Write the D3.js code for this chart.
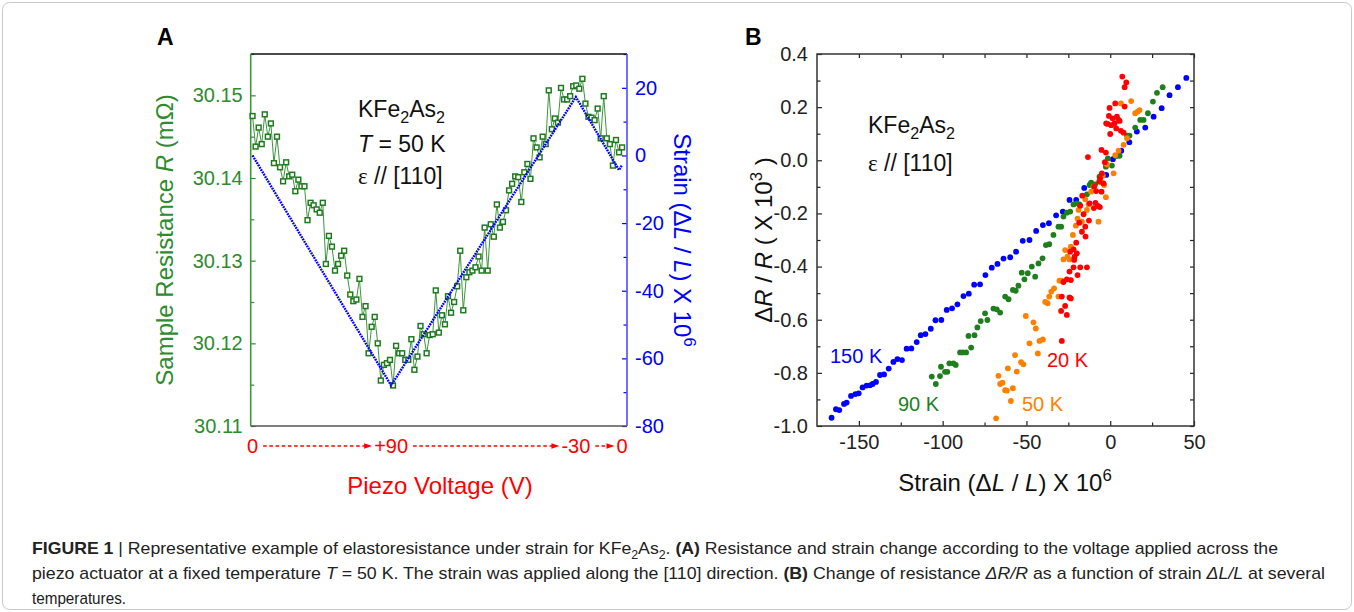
<!DOCTYPE html>
<html>
<head>
<meta charset="utf-8">
<script src="https://cdn.jsdelivr.net/npm/d3@7"></script>
<style>
  body { margin: 0; background: #fff; }
  svg text { font-family: "Liberation Sans", Arial, sans-serif; }
</style>
</head>
<body>
<svg id="fig" width="1354" height="612"></svg>
<script>
// ---------- data, panel A ----------
// sample resistance (mOhm) at each voltage step, read along the sweep 0 -> +90 -> -30 -> 0 V
var resistanceA = [
  30.1475, 30.1438, 30.1461, 30.1441, 30.1477, 30.1450, 30.1466, 30.1418, 30.1450, 30.1413,
  30.1396, 30.1419, 30.1402, 30.1404, 30.1384, 30.1398, 30.1390, 30.1390, 30.1349, 30.1370,
  30.1367, 30.1362, 30.1358, 30.1370, 30.1296, 30.1330, 30.1317, 30.1288, 30.1296, 30.1306,
  30.1312, 30.1282, 30.1259, 30.1251, 30.1253, 30.1278, 30.1232, 30.1245, 30.1188, 30.1220,
  30.1232, 30.1200, 30.1155, 30.1174, 30.1176, 30.1180, 30.1149, 30.1197, 30.1188, 30.1188,
  30.1180, 30.1180, 30.1205, 30.1168, 30.1184, 30.1221, 30.1211, 30.1188, 30.1210, 30.1211,
  30.1264, 30.1213, 30.1234, 30.1223, 30.1257, 30.1237, 30.1250, 30.1269, 30.1312, 30.1240,
  30.1280, 30.1286, 30.1288, 30.1292, 30.1305, 30.1288, 30.1340, 30.1288, 30.1344, 30.1329,
  30.1368, 30.1340, 30.1347, 30.1361, 30.1385, 30.1393, 30.1402, 30.1401, 30.1371, 30.1407,
  30.1417, 30.1399, 30.1448, 30.1437, 30.1425, 30.1450, 30.1441, 30.1506, 30.1459, 30.1472,
  30.1467, 30.1509, 30.1495, 30.1495, 30.1499, 30.1511, 30.1512, 30.1508, 30.1520, 30.1490,
  30.1474, 30.1473, 30.1470, 30.1484, 30.1448, 30.1499, 30.1448, 30.1441, 30.1415, 30.1446,
  30.1431, 30.1437
];
// strain (x 10^6) at the turning points of the sweep (sweep position in volts travelled)
var strainSweep = [0, 90, 210, 238, 240];
var strainValues = [0, -68, 17.3, -4.3, -2.8];
var sweepEnd = 240;

var voltageTicks = [0, 90, 210, 240];
var voltageLabels = ["0", "+90", "-30", "0"];
var resistanceTicks = [30.11, 30.12, 30.13, 30.14, 30.15];
var resistanceMinor = [30.115, 30.125, 30.135, 30.145, 30.155];
var strainTicks = [-80, -60, -40, -20, 0, 20];
var strainMinor = [-70, -50, -30, -10, 10, 30];

// ---------- data, panel B : [strain x 10^6, dR/R x 10^3] ----------
var k150 = [
  [-166.3, -0.969], [-163.7, -0.937], [-161.7, -0.940], [-158.9, -0.917], [-157.3, -0.912],
  [-154.7, -0.887], [-152.1, -0.880], [-150.1, -0.877], [-147.8, -0.855], [-145.4, -0.848],
  [-143.4, -0.847], [-141.8, -0.842], [-139.8, -0.834], [-137.4, -0.808], [-135.0, -0.806],
  [-132.2, -0.784], [-129.4, -0.759], [-127.0, -0.748], [-124.3, -0.752], [-121.5, -0.709],
  [-118.7, -0.708], [-115.5, -0.684], [-113.1, -0.658], [-110.3, -0.654], [-107.1, -0.634],
  [-104.3, -0.602], [-100.8, -0.601], [-97.6, -0.563], [-94.4, -0.557], [-91.2, -0.542],
  [-87.6, -0.511], [-84.4, -0.502], [-81.2, -0.468], [-77.7, -0.467], [-74.5, -0.432],
  [-70.7, -0.404], [-67.3, -0.390], [-63.7, -0.370], [-59.7, -0.365], [-56.2, -0.344],
  [-52.2, -0.303], [-48.2, -0.300], [-44.2, -0.266], [-40.2, -0.244], [-36.6, -0.237],
  [-32.3, -0.207], [-28.3, -0.193], [-24.3, -0.149], [-20.3, -0.149], [-15.5, -0.104],
  [-11.5, -0.089], [-2.4, -0.055], [1.6, 0.004], [6.6, 0.036], [11.4, 0.068],
  [15.9, 0.108], [20.9, 0.123], [25.9, 0.164], [30.7, 0.196], [35.4, 0.245],
  [40.4, 0.275], [45.4, 0.310]
];
var k90 = [
  [-106.5, -0.814], [-104.1, -0.842], [-101.6, -0.812], [-101.0, -0.777], [-98.6, -0.796],
  [-97.2, -0.796], [-96.0, -0.764], [-93.6, -0.764], [-92.2, -0.770], [-89.6, -0.723],
  [-88.0, -0.723], [-86.0, -0.723], [-83.0, -0.705], [-84.6, -0.661], [-81.0, -0.658],
  [-79.3, -0.629], [-77.3, -0.605], [-74.7, -0.576], [-73.3, -0.601], [-69.7, -0.558],
  [-67.7, -0.561], [-65.7, -0.573], [-62.7, -0.513], [-60.7, -0.523], [-58.1, -0.488],
  [-56.4, -0.491], [-54.8, -0.472], [-52.8, -0.423], [-51.2, -0.448], [-49.2, -0.425],
  [-46.8, -0.400], [-44.8, -0.438], [-42.8, -0.388], [-40.4, -0.369], [-38.4, -0.319],
  [-36.4, -0.316], [-33.9, -0.281], [-30.9, -0.250], [-29.3, -0.250], [-27.9, -0.212],
  [-25.9, -0.197], [-23.9, -0.193], [-21.9, -0.166], [-19.9, -0.162], [-18.3, -0.166],
  [-13.9, -0.128], [-12.3, -0.093], [-11.4, -0.084], [-9.0, -0.091], [-6.4, -0.062],
  [-2.6, -0.024], [-1.4, 0.007], [1.0, -0.020], [3.6, 0.016], [5.6, 0.017],
  [10.0, 0.093], [11.5, 0.093], [14.9, 0.123], [17.9, 0.152], [19.9, 0.152],
  [22.5, 0.177], [25.5, 0.221], [27.9, 0.254], [31.3, 0.275]
];
var k50 = [
  [-68.1, -0.971], [-66.7, -0.811], [-65.7, -0.842], [-64.3, -0.837], [-62.7, -0.865],
  [-61.7, -0.867], [-61.1, -0.783], [-59.3, -0.906], [-58.1, -0.858], [-56.8, -0.733],
  [-55.8, -0.795], [-53.2, -0.760], [-51.8, -0.768], [-50.4, -0.586], [-48.2, -0.689],
  [-45.8, -0.610], [-44.4, -0.633], [-43.2, -0.727], [-42.2, -0.680], [-40.2, -0.674],
  [-38.8, -0.533], [-37.4, -0.538], [-36.4, -0.513], [-35.2, -0.494], [-33.5, -0.482],
  [-30.9, -0.513], [-30.3, -0.453], [-28.9, -0.453], [-27.9, -0.373], [-26.9, -0.338],
  [-25.5, -0.363], [-24.3, -0.373], [-23.5, -0.325], [-22.3, -0.281], [-20.5, -0.246],
  [-19.5, -0.220], [-18.9, -0.187], [-16.9, -0.231], [-14.9, -0.147], [-13.9, -0.187],
  [-12.9, -0.166], [-11.4, -0.118], [-10.0, -0.099], [-7.0, -0.231], [-5.4, -0.083],
  [-4.4, -0.058], [-3.6, -0.093], [-2.6, -0.139], [-2.0, -0.015], [2.0, -0.049],
  [3.0, 0.019], [5.0, 0.036], [8.0, 0.058], [10.0, 0.083], [12.5, 0.223],
  [14.9, 0.177], [16.3, 0.183], [17.5, 0.189], [6.4, 0.214]
];
var k20 = [
  [7.2, 0.315], [9.6, 0.293], [8.6, 0.275], [-0.4, 0.197], [3.0, 0.214], [8.6, 0.202],
  [-0.8, 0.167], [-1.6, 0.137], [1.4, 0.158], [4.0, 0.164], [5.0, 0.152], [2.6, 0.139],
  [5.6, 0.148], [0.6, 0.132], [-2.4, 0.139], [3.6, 0.120], [6.4, 0.111], [8.0, 0.104],
  [0.0, 0.099], [-5.2, 0.039], [-2.6, 0.029], [-3.2, -0.007], [-13.3, 0.012], [-5.0, -0.049],
  [-6.0, -0.068], [-6.6, -0.080], [-4.0, -0.087], [-9.6, -0.099], [-8.4, -0.116], [-16.7, -0.133],
  [-17.9, -0.171], [-5.2, -0.118], [-8.8, -0.160], [-7.4, -0.172], [-6.2, -0.176], [-12.3, -0.162],
  [-9.8, -0.180], [-15.9, -0.203], [-12.7, -0.227], [-14.9, -0.250], [-16.9, -0.269], [-14.7, -0.287],
  [-20.3, -0.310], [-21.9, -0.335], [-19.9, -0.350], [-23.9, -0.344], [-21.5, -0.375], [-18.5, -0.235],
  [-21.9, -0.403], [-24.3, -0.419], [-17.9, -0.403], [-13.9, -0.403], [-19.5, -0.432], [-25.9, -0.448],
  [-23.5, -0.451], [-27.9, -0.458], [-24.3, -0.516], [-23.5, -0.520], [-26.9, -0.548], [-29.3, -0.567],
  [-25.9, -0.582], [-28.9, -0.680], [-28.9, -0.513], [-21.3, -0.363]
];
var strainTicksB = [-150, -100, -50, 0, 50];
var strainMinorB = [-125, -75, -25, 25];
var drTicks = [-1.0, -0.8, -0.6, -0.4, -0.2, 0.0, 0.2, 0.4];
var drMinor = [-0.9, -0.7, -0.5, -0.3, -0.1, 0.1, 0.3];

// ---------- setup ----------
var FONT = '"Liberation Sans", Arial, sans-serif';
var GREEN = "#2e8b2e", BLUE = "#0000ff", RED = "#ff0000", ORANGE = "#ff8000";
var svg = d3.select("#fig");

// rich text from segments {t, b, i, sub, sup, serif}
function rich(sel, segs, size) {
  var shift = 0;
  segs.forEach(function(s) {
    var ts = sel.append("tspan").text(s.t);
    var target = s.sub ? size * 0.28 : (s.sup ? -size * 0.42 : 0);
    if (target !== shift) { ts.attr("dy", target - shift); shift = target; }
    if (s.sub || s.sup) ts.attr("font-size", size * 0.7);
    if (s.b) ts.attr("font-weight", "bold");
    if (s.i) ts.attr("font-style", "italic");
    if (s.serif) ts.attr("font-family", '"Liberation Serif", "DejaVu Serif", serif');
  });
  return sel;
}

function styleAxis(g, color, size) {
  g.attr("font-family", null).attr("font-size", null);
  g.select(".domain").remove();
  g.selectAll(".tick line").attr("stroke", color).attr("stroke-width", 1.2);
  g.selectAll(".tick text").attr("fill", color).attr("font-size", size);
}

// figure border
svg.append("rect").attr("x", 2.5).attr("y", 2.5).attr("width", 1349).attr("height", 607)
  .attr("rx", 7).attr("fill", "none").attr("stroke", "#c8c8c8");

// ---------- panel A ----------
var A = {left: 250.7, right: 627, top: 54, bottom: 426};
var xA = d3.scaleLinear().domain([-1.2, 243.2]).range([A.left, A.right]);
var yR = d3.scaleLinear().domain([30.11, 30.155]).range([A.bottom, A.top]);
var yS = d3.scaleLinear().domain([-80, 30]).range([A.bottom, A.top]);
var stepToSweep = d3.scaleLinear().domain([0, resistanceA.length - 1]).range([0, sweepEnd]);

var gA = svg.append("g");

gA.append("g").attr("transform", "translate(" + A.left + ",0)")
  .call(d3.axisLeft(yR).tickValues(resistanceTicks).tickFormat(d3.format(".2f"))
    .tickSizeInner(-5).tickSizeOuter(0).tickPadding(8))
  .call(styleAxis, GREEN, 20);
gA.append("g").attr("transform", "translate(" + A.left + ",0)")
  .call(d3.axisLeft(yR).tickValues(resistanceMinor).tickFormat("").tickSizeInner(-3.5).tickSizeOuter(0))
  .call(styleAxis, GREEN, 20);
gA.append("g").attr("transform", "translate(" + A.right + ",0)")
  .call(d3.axisRight(yS).tickValues(strainTicks).tickFormat(String)
    .tickSizeInner(-5).tickSizeOuter(0).tickPadding(8))
  .call(styleAxis, BLUE, 20);
gA.append("g").attr("transform", "translate(" + A.right + ",0)")
  .call(d3.axisRight(yS).tickValues(strainMinor).tickFormat("").tickSizeInner(-3.5).tickSizeOuter(0))
  .call(styleAxis, BLUE, 20);

// frame
gA.append("line").attr("x1", A.left).attr("x2", A.right).attr("y1", A.top).attr("y2", A.top)
  .attr("stroke", "#111").attr("stroke-width", 1.3);
gA.append("line").attr("x1", A.left).attr("x2", A.right).attr("y1", A.bottom).attr("y2", A.bottom)
  .attr("stroke", "#555").attr("stroke-width", 1.6);
gA.append("line").attr("x1", A.left).attr("x2", A.left).attr("y1", A.top).attr("y2", A.bottom)
  .attr("stroke", "#3a9a3a").attr("stroke-width", 1.6);
gA.append("line").attr("x1", A.right).attr("x2", A.right).attr("y1", A.top).attr("y2", A.bottom)
  .attr("stroke", "#4d4dff").attr("stroke-width", 1.6);

// resistance trace
var rLine = d3.line().x(function(d, i) { return xA(stepToSweep(i)); }).y(function(d) { return yR(d); });
gA.append("path").datum(resistanceA).attr("d", rLine)
  .attr("fill", "none").attr("stroke", "#3c963c").attr("stroke-width", 1);
gA.append("g").selectAll("rect").data(resistanceA).enter().append("rect")
  .attr("x", function(d, i) { return xA(stepToSweep(i)) - 2.4; })
  .attr("y", function(d) { return yR(d) - 2.4; })
  .attr("width", 4.8).attr("height", 4.8)
  .attr("fill", "#fff").attr("stroke", "#1f7a1f").attr("stroke-width", 1.5);

// strain trace (dotted)
var sLine = d3.line().x(function(d) { return xA(d[0]); }).y(function(d) { return yS(d[1]); });
gA.append("path").datum(d3.zip(strainSweep, strainValues)).attr("d", sLine)
  .attr("fill", "none").attr("stroke", BLUE).attr("stroke-width", 2.4)
  .attr("stroke-dasharray", "1.8,0.9");

// voltage labels and arrows
var vLabels = gA.append("g").selectAll("text").data(voltageTicks).enter().append("text")
  .attr("x", function(d) { return xA(d); }).attr("y", 453)
  .attr("text-anchor", "middle").attr("font-size", 20).attr("fill", RED)
  .text(function(d, i) { return voltageLabels[i]; });
var boxes = vLabels.nodes().map(function(n) { return n.getBBox(); });
for (var k = 0; k < boxes.length - 1; k++) {
  var x0 = boxes[k].x + boxes[k].width + 5, x1 = boxes[k + 1].x - 2, ay = 446;
  gA.append("line").attr("x1", x0).attr("x2", x1 - 6).attr("y1", ay).attr("y2", ay)
    .attr("stroke", RED).attr("stroke-width", 1.3).attr("stroke-dasharray", "3.6,2.6");
  gA.append("path").attr("d", "M" + (x1 - 8) + "," + (ay - 2.8) + "L" + x1 + "," + ay + "L" + (x1 - 8) + "," + (ay + 2.8) + "Z")
    .attr("fill", RED);
}

// axis titles
gA.append("text").attr("x", 440).attr("y", 494).attr("text-anchor", "middle")
  .attr("font-size", 24).attr("fill", RED).text("Piezo Voltage (V)");
rich(gA.append("text").attr("transform", "translate(173,240) rotate(-90)")
  .attr("text-anchor", "middle").attr("font-size", 24).attr("fill", GREEN),
  [{t: "Sample Resistance "}, {t: "R", i: true}, {t: " (m\u03A9)"}], 24);
rich(gA.append("text").attr("transform", "translate(674,240) rotate(90)")
  .attr("text-anchor", "middle").attr("font-size", 24).attr("fill", BLUE),
  [{t: "Strain (\u0394"}, {t: "L", i: true}, {t: " / "}, {t: "L", i: true}, {t: ") X 10"}, {t: "6", sup: true}], 24);

// annotation
rich(gA.append("text").attr("x", 358).attr("y", 117).attr("font-size", 23).attr("fill", "#111"),
  [{t: "KFe"}, {t: "2", sub: true}, {t: "As"}, {t: "2", sub: true}], 23);
rich(gA.append("text").attr("x", 358).attr("y", 152).attr("font-size", 23).attr("fill", "#111"),
  [{t: "T", i: true}, {t: " = 50 K"}], 23);
rich(gA.append("text").attr("x", 358).attr("y", 184).attr("font-size", 23).attr("fill", "#111"),
  [{t: "\u03B5", serif: true}, {t: " // [110]"}], 23);

svg.append("text").attr("x", 157).attr("y", 45).attr("font-size", 23).attr("font-weight", "bold").text("A");

// ---------- panel B ----------
var B = {left: 817, right: 1194, top: 54, bottom: 426};
var xB = d3.scaleLinear().domain([-175, 50]).range([B.left, B.right]);
var yB = d3.scaleLinear().domain([-1.0, 0.4]).range([B.bottom, B.top]);
var gB = svg.append("g");

gB.append("g").attr("transform", "translate(0," + B.bottom + ")")
  .call(d3.axisBottom(xB).tickValues(strainTicksB).tickFormat(String)
    .tickSizeInner(-5).tickSizeOuter(0).tickPadding(9))
  .call(styleAxis, "#222", 20);
gB.append("g").attr("transform", "translate(0," + B.bottom + ")")
  .call(d3.axisBottom(xB).tickValues(strainMinorB).tickFormat("").tickSizeInner(-3.5).tickSizeOuter(0))
  .call(styleAxis, "#222", 20);
gB.append("g").attr("transform", "translate(0," + B.top + ")")
  .call(d3.axisTop(xB).tickValues(strainTicksB.concat(strainMinorB)).tickFormat("").tickSizeInner(-4).tickSizeOuter(0))
  .call(styleAxis, "#222", 20);
gB.append("g").attr("transform", "translate(" + B.left + ",0)")
  .call(d3.axisLeft(yB).tickValues(drTicks).tickFormat(function(d) { return d.toFixed(1); })
    .tickSizeInner(-5).tickSizeOuter(0).tickPadding(9))
  .call(styleAxis, "#222", 20);
gB.append("g").attr("transform", "translate(" + B.left + ",0)")
  .call(d3.axisLeft(yB).tickValues(drMinor).tickFormat("").tickSizeInner(-3.5).tickSizeOuter(0))
  .call(styleAxis, "#222", 20);
gB.append("g").attr("transform", "translate(" + B.right + ",0)")
  .call(d3.axisRight(yB).tickValues(drTicks.concat(drMinor)).tickFormat("").tickSizeInner(-4).tickSizeOuter(0))
  .call(styleAxis, "#222", 20);

gB.append("rect").attr("x", B.left).attr("y", B.top)
  .attr("width", B.right - B.left).attr("height", B.bottom - B.top)
  .attr("fill", "none").attr("stroke", "#333").attr("stroke-width", 1.5);

var series = [
  {data: k150, color: BLUE},
  {data: k90, color: "#1f7f1f"},
  {data: k50, color: ORANGE},
  {data: k20, color: RED}
];
series.forEach(function(s) {
  gB.append("g").selectAll("circle").data(s.data).enter().append("circle")
    .attr("cx", function(d) { return xB(d[0]); })
    .attr("cy", function(d) { return yB(d[1]); })
    .attr("r", 2.9).attr("fill", s.color);
});

// temperature labels
var tempLabels = [
  {t: "150 K", x: 830, y: 363, c: BLUE},
  {t: "90 K", x: 898, y: 411, c: "#1f7f1f"},
  {t: "50 K", x: 1022, y: 411, c: ORANGE},
  {t: "20 K", x: 1047, y: 367, c: RED}
];
gB.append("g").selectAll("text").data(tempLabels).enter().append("text")
  .attr("x", function(d) { return d.x; }).attr("y", function(d) { return d.y; })
  .attr("font-size", 20).attr("fill", function(d) { return d.c; })
  .text(function(d) { return d.t; });

rich(gB.append("text").attr("x", 868).attr("y", 133).attr("font-size", 23).attr("fill", "#111"),
  [{t: "KFe"}, {t: "2", sub: true}, {t: "As"}, {t: "2", sub: true}], 23);
rich(gB.append("text").attr("x", 868).attr("y", 171).attr("font-size", 23).attr("fill", "#111"),
  [{t: "\u03B5", serif: true}, {t: " // [110]"}], 23);

rich(gB.append("text").attr("x", 1005).attr("y", 491).attr("text-anchor", "middle")
  .attr("font-size", 24).attr("fill", "#111"),
  [{t: "Strain (\u0394"}, {t: "L", i: true}, {t: " / "}, {t: "L", i: true}, {t: ") X 10"}, {t: "6", sup: true}], 24);
rich(gB.append("text").attr("transform", "translate(772,240) rotate(-90)")
  .attr("text-anchor", "middle").attr("font-size", 24).attr("fill", "#111"),
  [{t: "\u0394"}, {t: "R", i: true}, {t: " / "}, {t: "R", i: true}, {t: "  ( X 10"}, {t: "3", sup: true}, {t: " )"}], 24);

svg.append("text").attr("x", 745).attr("y", 45).attr("font-size", 23).attr("font-weight", "bold").text("B");

// ---------- caption ----------
var capFont = '"Liberation Sans Narrow", "Liberation Sans", Arial, sans-serif';
var captionLines = [
  {y: 554, w: 1246, segs: [
    {t: "FIGURE 1", b: true}, {t: " | "},
    {t: "Representative example of elastoresistance under strain for KFe"}, {t: "2", sub: true},
    {t: "As"}, {t: "2", sub: true}, {t: ". "}, {t: "(A)", b: true},
    {t: " Resistance and strain change according to the voltage applied across the"}]},
  {y: 579, w: 1293, segs: [
    {t: "piezo actuator at a fixed temperature "}, {t: "T", i: true},
    {t: " = 50 K. The strain was applied along the [110] direction. "}, {t: "(B)", b: true},
    {t: " Change of resistance "}, {t: "\u0394R/R", i: true}, {t: " as a function of strain "},
    {t: "\u0394L/L", i: true}, {t: " at several"}]},
  {y: 604, w: 94, segs: [{t: "temperatures."}]}
];
captionLines.forEach(function(l) {
  var t = svg.append("text").attr("x", 32).attr("y", l.y).attr("font-size", 17)
    .attr("fill", "#222").style("font-family", capFont)
    .attr("textLength", l.w).attr("lengthAdjust", "spacingAndGlyphs");
  rich(t, l.segs, 17);
});
</script>
</body>
</html>
